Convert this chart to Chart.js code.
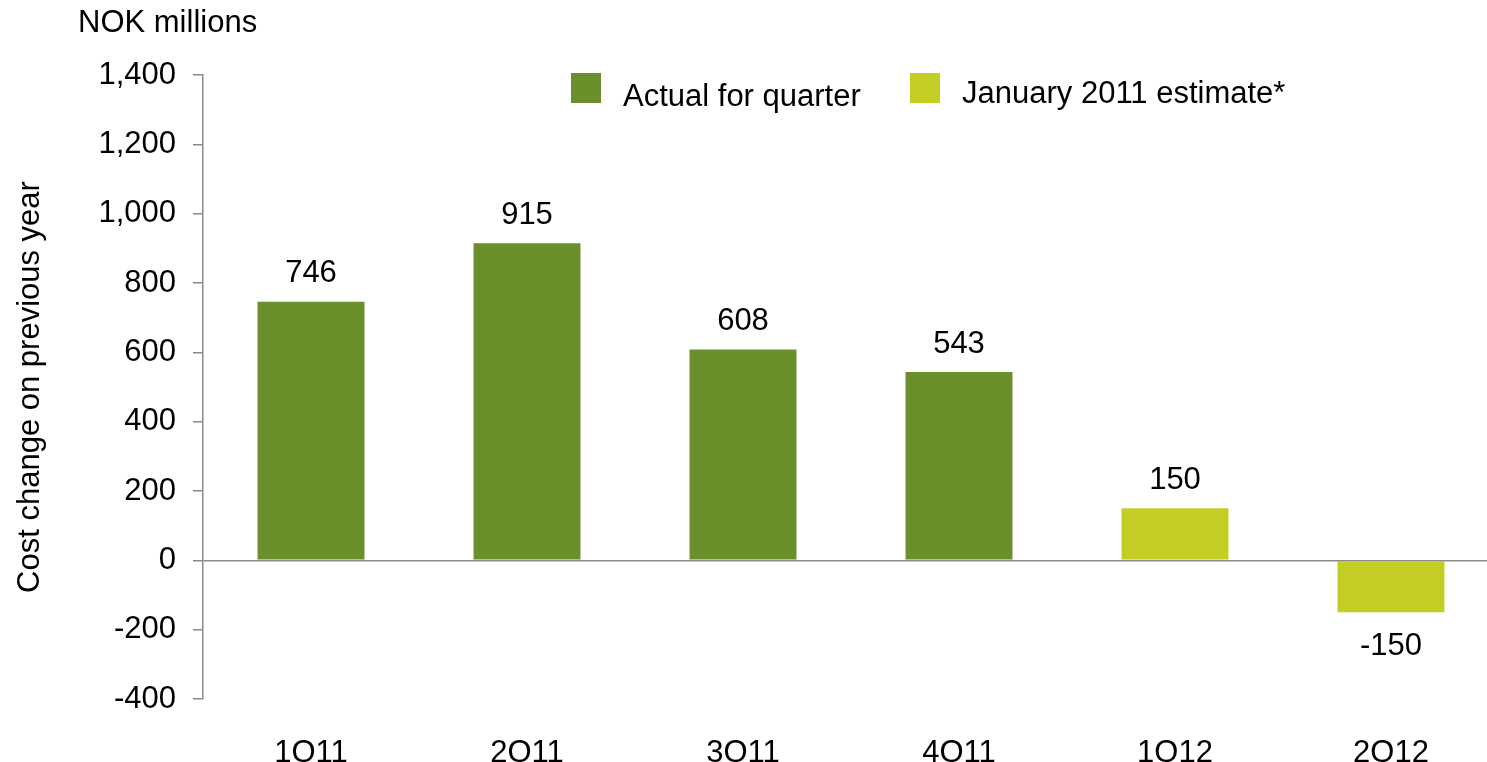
<!DOCTYPE html>
<html>
<head>
<meta charset="utf-8">
<title>Cost change on previous year</title>
<script src="https://cdn.jsdelivr.net/npm/chart.js@4.4.1/dist/chart.umd.min.js"></script>
<style>
    html, body { margin: 0; padding: 0; background: #fff; overflow: hidden; }
    #contenedor { position: relative; width: 1500px; height: 762px; }
</style>
</head>
<body>
<div id="contenedor">
    <canvas id="graficoCostos"></canvas>
</div>
<script>
// Datos del grafico
const trimestres = ['1Q11', '2Q11', '3Q11', '4Q11', '1Q12', '2Q12'];
const valoresReales = [746, 915, 608, 543, null, null];
const valoresEstimados = [null, null, null, null, 150, -150];
const ejeMin = -400;
const ejeMax = 1400;
const ejePaso = 200;

const FUENTE = "'Liberation Sans', Arial, sans-serif";
const TAM = 31;
const GRIS = '#8a8a8a';

// Etiquetas de valor encima / debajo de cada barra
const etiquetasValor = {
    id: 'etiquetasValor',
    afterDatasetsDraw(chart) {
        const ctx = chart.ctx;
        ctx.save();
        ctx.font = TAM + 'px ' + FUENTE;
        ctx.fillStyle = '#000';
        ctx.textAlign = 'center';
        ctx.textBaseline = 'middle';
        chart.data.datasets.forEach((ds, i) => {
            chart.getDatasetMeta(i).data.forEach((bar, j) => {
                const v = ds.data[j];
                if (v === null) return;
                const y = v >= 0 ? bar.y - 28 : bar.y + 34;
                ctx.fillText(v.toString(), bar.x, y);
            });
        });
        ctx.restore();
    }
};

// Leyenda dentro del area del grafico y titulo de unidades
const leyendaYTitulo = {
    id: 'leyendaYTitulo',
    afterDraw(chart) {
        const ctx = chart.ctx;
        ctx.save();
        ctx.font = TAM + 'px ' + FUENTE;
        ctx.fillStyle = '#000';
        ctx.textBaseline = 'middle';
        ctx.textAlign = 'left';
        ctx.fillText('NOK millions', 78, 23);

        const posiciones = [571, 910];
        chart.data.datasets.forEach((ds, i) => {
            const x = posiciones[i];
            ctx.fillStyle = ds.backgroundColor;
            ctx.fillRect(x, 73, 30, 30);
            ctx.fillStyle = '#000';
            ctx.fillText(ds.label, x + 52, i === 0 ? 97 : 94);
        });
        ctx.restore();
    }
};

const ctx = document.getElementById('graficoCostos').getContext('2d');
new Chart(ctx, {
    type: 'bar',
    data: {
        labels: trimestres,
        datasets: [{
            label: 'Actual for quarter',
            data: valoresReales,
            backgroundColor: '#6b8f2a',
            grouped: false,
            categoryPercentage: 1,
            barPercentage: 0.495
        }, {
            label: 'January 2011 estimate*',
            data: valoresEstimados,
            backgroundColor: '#c4cd24',
            grouped: false,
            categoryPercentage: 1,
            barPercentage: 0.495
        }]
    },
    options: {
        responsive: true,
        maintainAspectRatio: false,
        animation: false,
        layout: {
            padding: { top: 75, left: 12, right: 1, bottom: 0 }
        },
        plugins: {
            legend: { display: false },
            title: { display: false },
            tooltip: { enabled: false }
        },
        scales: {
            x: {
                grid: { display: false },
                border: { display: false },
                ticks: {
                    color: '#000',
                    font: { family: FUENTE, size: TAM },
                    padding: 28
                },
                afterFit(scale) { scale.height = 63; }
            },
            y: {
                min: ejeMin,
                max: ejeMax,
                grid: {
                    drawOnChartArea: true,
                    color: c => (c.tick && c.tick.value === 0 ? GRIS : 'rgba(0,0,0,0)'),
                    tickColor: GRIS,
                    tickLength: 10,
                    lineWidth: 1.5
                },
                border: { display: true, color: GRIS, width: 1.5 },
                ticks: {
                    stepSize: ejePaso,
                    color: '#000',
                    font: { family: FUENTE, size: TAM },
                    padding: 17,
                    callback: v => v.toLocaleString('en-US')
                },
                title: {
                    display: true,
                    text: 'Cost change on previous year',
                    color: '#000',
                    font: { family: FUENTE, size: TAM },
                    padding: 0
                },
                afterFit(scale) { scale.width = 191; }
            }
        }
    },
    plugins: [etiquetasValor, leyendaYTitulo]
});
</script>
</body>
</html>
